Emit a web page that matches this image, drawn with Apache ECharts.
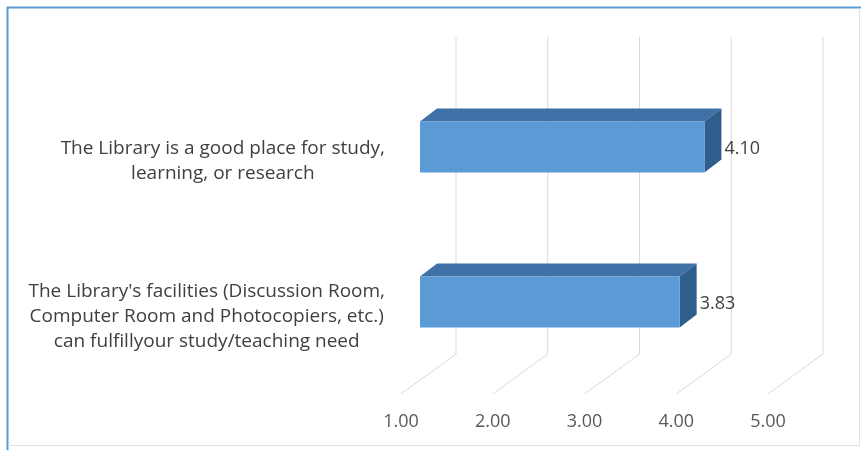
<!DOCTYPE html>
<html>
<head>
<meta charset="utf-8">
<script src="https://cdn.jsdelivr.net/npm/echarts@6/dist/echarts.min.js"></script>
<style>
  html, body { margin: 0; padding: 0; background: #ffffff; }
  #chart { width: 861px; height: 450px; }
</style>
</head>
<body>
<div id="chart"></div>
<script>
// Survey statements and their mean scores (scale 1-5)
const statements = [
  "The Library is a good place for study,\nlearning, or research",
  "The Library's facilities (Discussion Room,\nComputer Room and Photocopiers, etc.)\ncan fulfillyour study/teaching need"
];
const meanScores = [4.10, 3.83];
const scaleTicks = [1, 2, 3, 4, 5];

// Pseudo-3D look: floor depth and bar depth offsets (pixels)
const WALL_DX = 55, WALL_DY = 40, WALL_TOP = 37;
const BAR_FRONT_DX = 19, BAR_FRONT_DY = 14.5;
const BAR_DEPTH_DX = 17, BAR_DEPTH_DY = 13;
const BAR_HALF = 25.5;

const FONT = '"Open Sans", Lato, sans-serif';

const chart = echarts.init(document.getElementById('chart'), null, { renderer: 'canvas' });

const option = {
  animation: false,
  backgroundColor: '#ffffff',
  grid: { left: 401, right: 93, top: 84, height: 310 },
  xAxis: {
    type: 'value',
    min: 1,
    max: 5,
    interval: 1,
    axisLine: { show: false },
    axisTick: { show: false },
    splitLine: { show: false },
    axisLabel: {
      margin: 19,
      color: '#595959',
      fontFamily: FONT,
      fontSize: 18,
      formatter: v => v.toFixed(2)
    }
  },
  yAxis: {
    type: 'category',
    inverse: true,
    data: statements,
    axisLine: { show: false },
    axisTick: { show: false },
    splitLine: { show: false },
    axisLabel: {
      margin: 16,
      color: '#404040',
      fontFamily: FONT,
      fontSize: 19,
      lineHeight: 25,
      formatter: s => s.split('\n').map(l => '{c|' + l + '}').join('\n'),
      rich: {
        c: { align: 'center', color: '#404040', fontFamily: FONT, fontSize: 19, lineHeight: 25 }
      }
    }
  },
  series: [
    {
      // back wall gridlines with their floor diagonals
      type: 'custom',
      silent: true,
      z: 1,
      data: scaleTicks.map(v => [v, 0]),
      renderItem: (params, api) => {
        const cs = params.coordSys;
        const x = api.coord([api.value(0), 0])[0];
        const floorY = cs.y + cs.height;
        return {
          type: 'polyline',
          shape: {
            points: [
              [x, floorY],
              [x + WALL_DX, floorY - WALL_DY],
              [x + WALL_DX, WALL_TOP]
            ]
          },
          style: { stroke: '#d9d9d9', lineWidth: 1, fill: null }
        };
      }
    },
    {
      // 3D bars: front, top and side faces plus value label
      type: 'custom',
      z: 2,
      data: meanScores.map((v, i) => [v, i]),
      renderItem: (params, api) => {
        const cs = params.coordSys;
        const v = api.value(0);
        const p = api.coord([v, api.value(1)]);
        const xL = cs.x + BAR_FRONT_DX;
        const xR = p[0] + BAR_FRONT_DX;
        const cy = p[1] - BAR_FRONT_DY;
        const top = cy - BAR_HALF, bot = cy + BAR_HALF;
        const dx = BAR_DEPTH_DX, dy = BAR_DEPTH_DY;
        return {
          type: 'group',
          children: [
            {
              type: 'polygon',
              shape: { points: [[xL, top], [xR, top], [xR + dx, top - dy], [xL + dx, top - dy]] },
              style: { fill: '#3f71a6' }
            },
            {
              type: 'polygon',
              shape: { points: [[xR, top], [xR + dx, top - dy], [xR + dx, bot - dy], [xR, bot]] },
              style: { fill: '#2f5d8c' }
            },
            {
              type: 'rect',
              shape: { x: xL, y: top, width: xR - xL, height: bot - top },
              style: { fill: '#5b9bd5' }
            },
            {
              type: 'text',
              style: {
                x: xR + dx + 3,
                y: cy + 1.5,
                text: v.toFixed(2),
                fill: '#404040',
                font: '18px ' + FONT,
                textAlign: 'left',
                textVerticalAlign: 'middle'
              }
            }
          ]
        };
      }
    }
  ],
  graphic: [
    { type: 'line', shape: { x1: 7, y1: 7.5, x2: 861, y2: 7.5 }, style: { stroke: '#5b9bd5', lineWidth: 2 } },
    { type: 'line', shape: { x1: 7.5, y1: 7, x2: 7.5, y2: 450 }, style: { stroke: '#5b9bd5', lineWidth: 2 } },
    { type: 'line', shape: { x1: 859.5, y1: 8, x2: 859.5, y2: 445 }, style: { stroke: '#e0e0e0', lineWidth: 1 } },
    { type: 'line', shape: { x1: 8, y1: 445.5, x2: 860, y2: 445.5 }, style: { stroke: '#e0e0e0', lineWidth: 1 } }
  ]
};

chart.setOption(option);
</script>
</body>
</html>
